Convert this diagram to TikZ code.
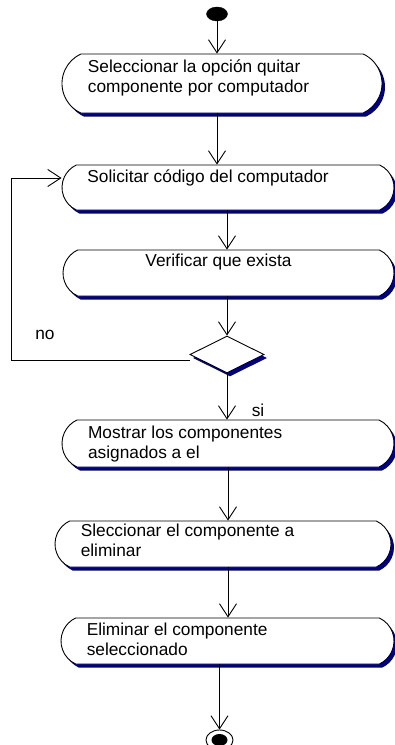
\documentclass[tikz,border=0pt]{standalone}
\usepackage{fontspec}
\setmainfont{Liberation Sans}
\usepackage{tikz}
\usetikzlibrary{arrows.meta,positioning,shapes.geometric,shapes.misc,shadows}
\definecolor{navy}{RGB}{0,0,128}

\begin{document}
\begin{tikzpicture}[
  x=1pt, y=-1pt,
  act/.style={rounded rectangle, rounded rectangle arc length=130, draw, line width=0.9pt,
              fill=white, inner sep=0pt, minimum height=46pt,
              drop shadow={shadow xshift=3pt, shadow yshift=-3.5pt, fill=navy, opacity=1}},
  dec/.style={diamond, draw, line width=0.9pt, fill=white, inner sep=0pt,
              minimum width=74pt, minimum height=37pt,
              drop shadow={shadow xshift=3pt, shadow yshift=-3.5pt, fill=navy, opacity=1}},
  txt/.style={font=\fontsize{17.3}{20}\selectfont, align=left, inner sep=0pt, anchor=north west},
  lbl/.style={font=\fontsize{17.3}{20}\selectfont, inner sep=0pt},
  flow/.style={-{Straight Barb[length=13pt,width=17pt]}, line width=0.9pt}
]
  \useasboundingbox (0,0) rectangle (395,745);

  \node[ellipse, fill=black, draw, minimum width=21pt, minimum height=14pt, inner sep=0pt] (ini) at (217,14) {};
  \node[act, minimum width=320pt, minimum height=59pt,
        label={[txt, xshift=7pt, yshift=-6pt]north west:{Seleccionar la opción quitar\\componente por computador}}] (sel) at (222,83.5) {};
  \node[act, minimum width=332pt, minimum height=45pt,
        label={[txt, xshift=11pt, yshift=-5pt]north west:{Solicitar código del computador}}] (sol) at (228,187.5) {};
  \node[act, minimum width=331pt,
        label={[txt, anchor=north, xshift=-10pt, yshift=-4pt]north:{Verificar que exista}}] (ver) at (228.5,273) {};
  \node[dec] (dcs) at (227,354.5) {};
  \node[act, minimum width=332pt, minimum height=47pt,
        label={[txt, xshift=11pt, yshift=-6pt]north west:{Mostrar los componentes\\asignados a el}}] (mos) at (228,443.5) {};
  \node[act, minimum width=336pt,
        label={[txt, xshift=11pt, yshift=-3pt]north west:{Sleccionar el componente a\\eliminar}}] (sle) at (223,544) {};
  \node[act, minimum width=333pt,
        label={[txt, xshift=11pt, yshift=-5pt]north west:{Eliminar el componente\\seleccionado}}] (eli) at (227.5,641) {};
  \node[ellipse, draw, line width=0.9pt, minimum width=27pt, minimum height=20pt, inner sep=0pt,
        path picture={\fill (path picture bounding box.center) ellipse (8pt and 6pt);}] (fin) at (219.5,740) {};

  \node[lbl] (no) at (45,335) {no};
  \node[lbl] (si) at (258,410) {si};
  \coordinate (lp) at (11,178);

  \draw[flow] (ini) -- (ini |- sel.north);
  \draw[flow] (sel.south -| ini) -- (sol.north -| ini);
  \draw[flow] (sol.south -| dcs.north) -- (ver.north -| dcs.north);
  \draw[flow] (ver.south -| dcs.north) -- (dcs.north);
  \draw[flow] (dcs.south) -- (mos.north -| dcs.south);
  \draw[flow] ([yshift=-6pt]dcs.west) -| (lp) -- (lp -| sol.west);
  \draw[flow] (mos.south) -- (sle.north -| mos.south);
  \draw[flow] (sle.south -| mos.south) -- (eli.north -| mos.south);
  \draw[flow] (eli.south -| fin) -- (fin);
\end{tikzpicture}
\end{document}
